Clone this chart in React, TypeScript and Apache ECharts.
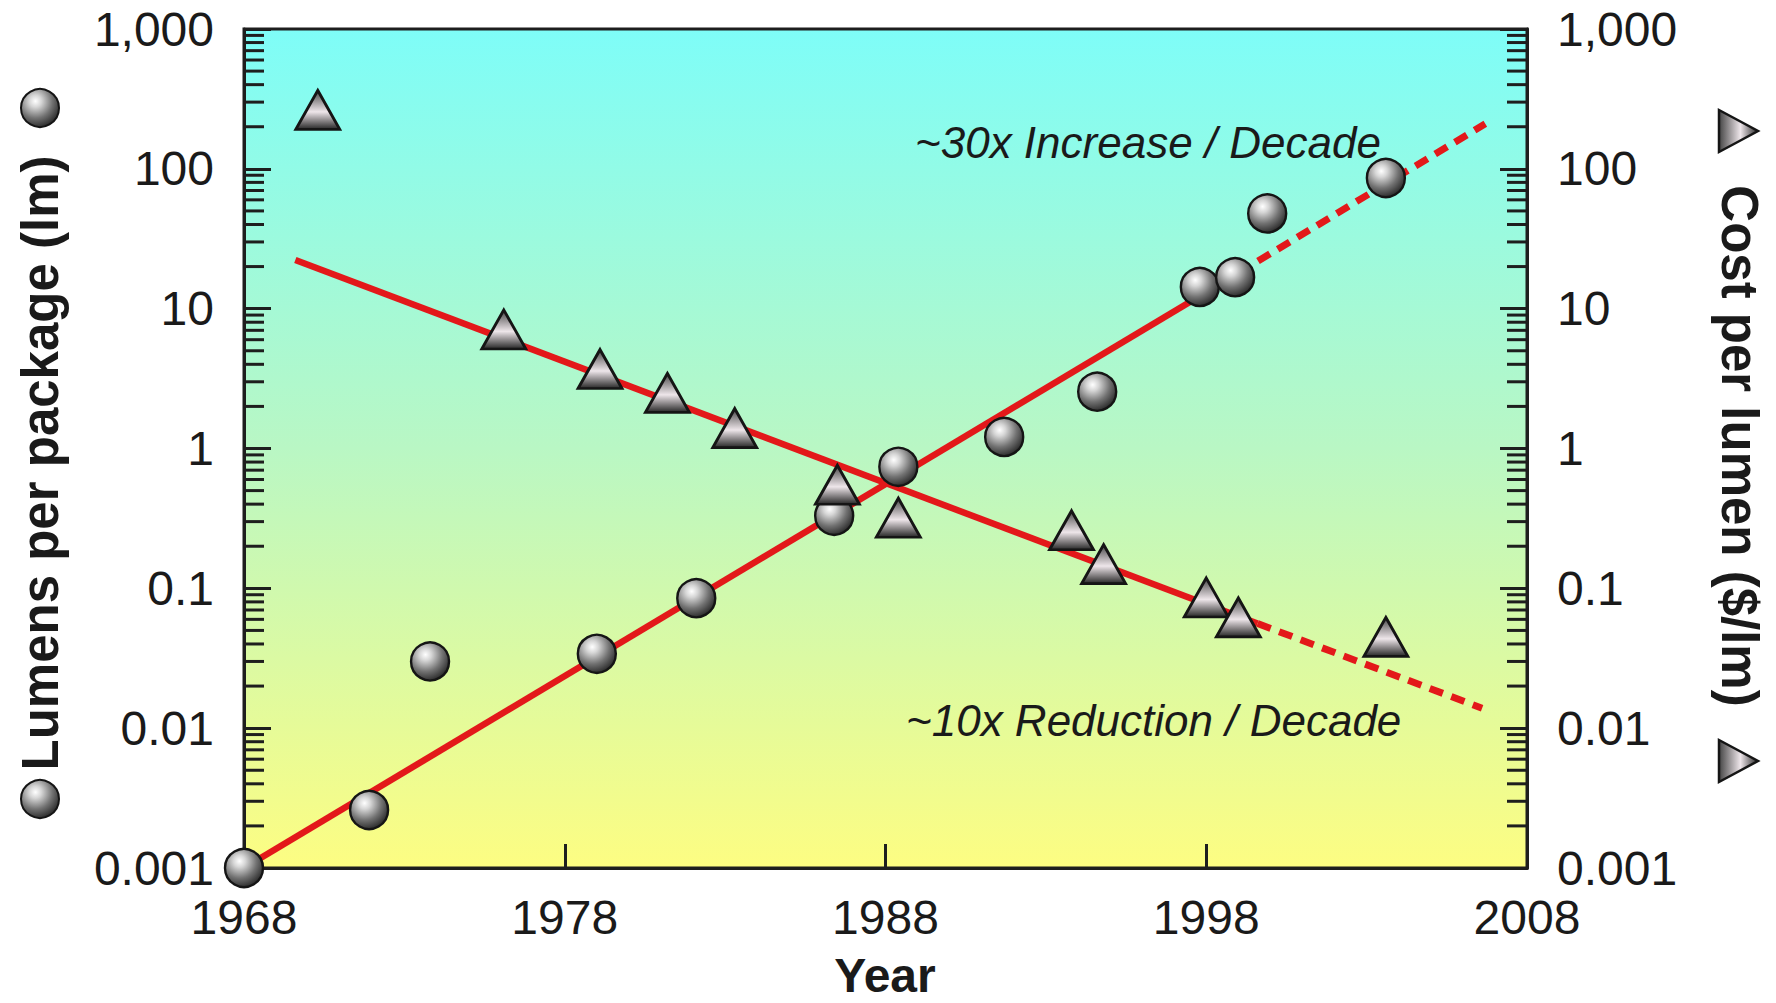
import React, { useEffect, useRef } from 'react';
import * as echarts from 'echarts';

// ---- data ----
const lumenYears = [1968, 1971.9, 1973.8, 1979.0, 1982.1, 1986.4, 1988.4, 1991.7, 1994.6, 1997.8, 1998.9, 1999.9, 2003.6];
const lumenValues = [0.001, 0.0026, 0.03, 0.034, 0.085, 0.33, 0.74, 1.21, 2.55, 14.3, 16.8, 48, 86];

const costYears = [1970.3, 1976.1, 1979.1, 1981.2, 1983.3, 1986.5, 1988.4, 1993.8, 1994.8, 1998.0, 1999.0, 2003.6];
const costValues = [264, 7.1, 3.7, 2.5, 1.4, 0.55, 0.32, 0.26, 0.149, 0.086, 0.062, 0.045];

// trend lines: [start, end of solid part, end of dashed projection]
const increaseYears = [1968, 1999.0, 2006.7];
const increaseValues = [0.001, 18, 210];
const reductionYears = [1969.6, 1999.6, 2006.6];
const reductionValues = [22.3, 0.056, 0.0139];

const yearTicks = [1968, 1978, 1988, 1998, 2008];
const yTickLabels = ['0.001', '0.01', '0.1', '1', '10', '100', '1,000'];
const decadeStarts = [0.001, 0.01, 0.1, 1, 10, 100];
const minorMultipliers = [2, 3, 4, 5, 6, 7, 8, 9];

const xTitle = 'Year';
const leftTitle = 'Lumens per package (lm)';
const rightTitle = 'Cost per lumen ($/lm)';
const increaseNote = '~30x Increase / Decade';
const reductionNote = '~10x Reduction / Decade';

const X_MIN = 1968;
const X_MAX = 2008;

const FONT = "'Liberation Sans', Arial, Helvetica, sans-serif";
const INK = '#1a1a1a';
const RED = '#e3181a';

function sphereFill() {
  return new echarts.graphic.RadialGradient(0.38, 0.32, 0.72, [
    { offset: 0, color: '#ffffff' },
    { offset: 0.22, color: '#d6d6d6' },
    { offset: 0.62, color: '#727272' },
    { offset: 1, color: '#262626' },
  ]);
}
function triangleFill() {
  return new echarts.graphic.LinearGradient(0, 0, 0, 1, [
    { offset: 0, color: '#444444' },
    { offset: 0.55, color: '#eee6ea' },
    { offset: 1, color: '#262626' },
  ]);
}
function triangleFillSide() {
  return new echarts.graphic.LinearGradient(0, 0, 1, 0, [
    { offset: 0, color: '#444444' },
    { offset: 0.55, color: '#eee6ea' },
    { offset: 1, color: '#262626' },
  ]);
}

function pairs(xs: number[], ys: number[], from: number, to: number) {
  const out: number[][] = [];
  for (let i = from; i <= to; i++) out.push([xs[i], ys[i]]);
  return out;
}

const minorTickData: number[][] = [];
decadeStarts.forEach((d) => minorMultipliers.forEach((m) => minorTickData.push([X_MIN, d * m])));

const axisLineStyle = { color: '#1e1e1e', width: 3 };

function yAxisCfg(position: 'left' | 'right') {
  return {
    type: 'log',
    logBase: 10,
    position,
    min: 0.001,
    max: 1000,
    splitLine: { show: false },
    minorTick: { show: false },
    axisLine: { show: true, onZero: false, lineStyle: axisLineStyle },
    axisTick: { show: true, inside: true, length: 27, lineStyle: axisLineStyle },
    axisLabel: {
      fontSize: 48,
      fontFamily: FONT,
      color: INK,
      margin: 30,
      formatter: (v: number) => {
        const e = Math.round(Math.log10(v));
        return yTickLabels[e + 3] ?? String(v);
      },
    },
  };
}

function buildOption() {
  const lineBase = {
    type: 'line',
    showSymbol: false,
    symbol: 'none',
    silent: true,
    z: 2,
  };
  return {
    animation: false,
    backgroundColor: '#ffffff',
    grid: {
      left: 244,
      right: 249,
      top: 29,
      bottom: 135,
      show: true,
      borderColor: '#1e1e1e',
      borderWidth: 3,
      backgroundColor: new echarts.graphic.LinearGradient(0, 0, 0, 1, [
        { offset: 0, color: '#7efdf8' },
        { offset: 0.5, color: '#b9f7c4' },
        { offset: 1, color: '#fdfd82' },
      ]),
      containLabel: false,
      outerBoundsMode: 'none',
    },
    xAxis: {
      type: 'value',
      min: X_MIN,
      max: X_MAX,
      splitLine: { show: false },
      axisLine: { show: true, onZero: false, lineStyle: axisLineStyle },
      axisTick: { show: true, inside: true, length: 24, lineStyle: axisLineStyle, customValues: yearTicks },
      axisLabel: {
        customValues: yearTicks,
        fontSize: 48,
        fontFamily: FONT,
        color: INK,
        margin: 25,
        formatter: (v: number) => String(Math.round(v)),
      },
    },
    yAxis: [yAxisCfg('left'), yAxisCfg('right')],
    series: [
      {
        type: 'custom',
        name: 'minor ticks',
        xAxisIndex: 0,
        yAxisIndex: 0,
        silent: true,
        clip: false,
        z: 1,
        data: minorTickData,
        renderItem: (params: any, api: any) => {
          const v = api.value(1);
          const p1 = api.coord([X_MIN, v]);
          const p2 = api.coord([X_MAX, v]);
          return {
            type: 'group',
            children: [
              { type: 'line', shape: { x1: p1[0], y1: p1[1], x2: p1[0] + 20, y2: p1[1] }, style: { stroke: '#1e1e1e', lineWidth: 3 } },
              { type: 'line', shape: { x1: p2[0] - 20, y1: p2[1], x2: p2[0], y2: p2[1] }, style: { stroke: '#1e1e1e', lineWidth: 3 } },
            ],
          };
        },
      },
      {
        ...lineBase,
        name: 'increase trend',
        yAxisIndex: 0,
        data: pairs(increaseYears, increaseValues, 0, 1),
        lineStyle: { color: RED, width: 6.5, cap: 'butt' },
      },
      {
        ...lineBase,
        name: 'increase projection',
        yAxisIndex: 0,
        data: pairs(increaseYears, increaseValues, 1, 2),
        lineStyle: { color: RED, width: 7, type: [14, 9] },
      },
      {
        ...lineBase,
        name: 'reduction trend',
        yAxisIndex: 1,
        data: pairs(reductionYears, reductionValues, 0, 1),
        lineStyle: { color: RED, width: 6.5, cap: 'butt' },
      },
      {
        ...lineBase,
        name: 'reduction projection',
        yAxisIndex: 1,
        data: pairs(reductionYears, reductionValues, 1, 2),
        lineStyle: { color: RED, width: 7, type: [14, 9] },
      },
      {
        type: 'scatter',
        name: 'Lumens per package',
        yAxisIndex: 0,
        clip: false,
        z: 3,
        symbol: 'circle',
        symbolSize: 38,
        data: pairs(lumenYears, lumenValues, 0, lumenYears.length - 1),
        itemStyle: { color: sphereFill(), borderColor: '#151515', borderWidth: 2.4, opacity: 1 },
      },
      {
        type: 'scatter',
        name: 'Cost per lumen',
        yAxisIndex: 1,
        clip: false,
        z: 4,
        symbol: 'triangle',
        symbolSize: [44, 39],
        data: pairs(costYears, costValues, 0, costYears.length - 1),
        itemStyle: { color: triangleFill(), borderColor: '#151515', borderWidth: 2.8, opacity: 1 },
      },
    ],
    graphic: [
      {
        type: 'text',
        x: 885,
        y: 975,
        style: { text: xTitle, fontSize: 48, fontWeight: 'bold', fontFamily: FONT, fill: INK, align: 'center', verticalAlign: 'middle' },
      },
      {
        type: 'text',
        x: 40,
        y: 463,
        rotation: Math.PI / 2,
        style: { text: leftTitle, fontSize: 51, fontWeight: 'bold', fontFamily: FONT, fill: INK, align: 'center', verticalAlign: 'middle' },
      },
      {
        type: 'text',
        x: 1739,
        y: 446,
        rotation: -Math.PI / 2,
        style: { text: rightTitle, fontSize: 51, fontWeight: 'bold', fontFamily: FONT, fill: INK, align: 'center', verticalAlign: 'middle' },
      },
      {
        type: 'circle',
        shape: { cx: 40, cy: 108, r: 19 },
        style: { fill: sphereFill(), stroke: '#151515', lineWidth: 2 },
      },
      {
        type: 'circle',
        shape: { cx: 40, cy: 799, r: 19 },
        style: { fill: sphereFill(), stroke: '#151515', lineWidth: 2 },
      },
      {
        type: 'polygon',
        shape: { points: [[1719, 110], [1758, 131], [1719, 152]] },
        style: { fill: triangleFillSide(), stroke: '#151515', lineWidth: 2.5 },
      },
      {
        type: 'polygon',
        shape: { points: [[1719, 740], [1758, 761], [1719, 782]] },
        style: { fill: triangleFillSide(), stroke: '#151515', lineWidth: 2.5 },
      },
      {
        type: 'text',
        x: 915,
        y: 142,
        style: { text: increaseNote, fontSize: 44, fontStyle: 'italic', fontFamily: FONT, fill: INK, align: 'left', verticalAlign: 'middle' },
      },
      {
        type: 'text',
        x: 906,
        y: 720,
        style: { text: reductionNote, fontSize: 44, fontStyle: 'italic', fontFamily: FONT, fill: INK, align: 'left', verticalAlign: 'middle' },
      },
    ],
  };
}

export default function App() {
  const ref = useRef<HTMLDivElement>(null);
  useEffect(() => {
    if (!ref.current) return;
    const chart = echarts.init(ref.current, null, { renderer: 'svg' });
    chart.setOption(buildOption() as any);
    return () => chart.dispose();
  }, []);
  return (
    <div
      ref={ref}
      style={{ position: 'fixed', left: 0, top: 0, width: 1776, height: 1003, background: '#ffffff' }}
    />
  );
}
